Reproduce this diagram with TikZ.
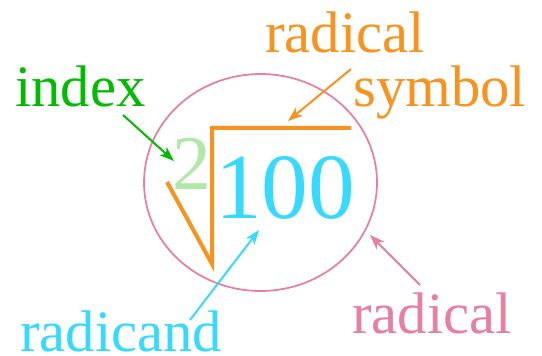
\documentclass[tikz,border=0pt]{standalone}
\usepackage{fontspec}
\setmainfont{Liberation Serif}
\usetikzlibrary{arrows.meta,positioning}
\definecolor{radorange}{HTML}{F7931E}
\definecolor{idxgreen}{HTML}{00BB00}
\definecolor{digitgreen}{HTML}{B0E8A8}
\definecolor{radcyan}{HTML}{38D9FF}
\definecolor{radpink}{HTML}{E67FA0}

\begin{document}
\begin{tikzpicture}[x=0.75pt, y=-0.75pt,
		lbl/.style={font=\fontsize{44}{44}\selectfont, inner sep=0pt, anchor=base west},
		ptr/.style={line width=1.5pt, -{Stealth[length=11pt, width=8pt, inset=3pt]}}]
	\useasboundingbox (0,0) rectangle (542,356);

	% the radical
	\draw[radpink, line width=1.3pt] (260.5,182.5) ellipse [x radius=116.5, y radius=108.5];
	\draw[radorange, line width=3pt, line join=miter] (167,182) -- (212,264) -- (212,128) -- (351,128);
	\node[lbl, font=\fontsize{58}{58}\selectfont, text=digitgreen] (two) at (172,189) {2};
	\node[lbl, font=\fontsize{70}{70}\selectfont, text=radcyan] (hundred) at (215,218) {100};

	% labels
	\node[lbl, text=idxgreen] (index) at (15,107) {index};
	\node[lbl, text=radorange] (radtop) at (265,53) {radical};
	\node[lbl, text=radorange] (symbol) at (353,107) {symbol};
	\node[lbl, text=radcyan] (radicand) at (20,351) {radicand};
	\node[lbl, text=radpink] (radical) at (352,333) {radical};

	% pointers
	\coordinate (idxtail) at (123,115);
	\coordinate (idxtip) at (174,161);
	\coordinate (symtail) at (351,69);
	\coordinate (symtip) at (288,121);
	\coordinate (cndtail) at (190,320);
	\coordinate (cndtip) at (259,230);
	\coordinate (radtail) at (420,285);
	\coordinate (radtip) at (370,235);
	\draw[ptr, idxgreen] (idxtail) -- (idxtip);
	\draw[ptr, radorange] (symtail) -- (symtip);
	\draw[ptr, radcyan] (cndtail) -- (cndtip);
	\draw[ptr, radpink] (radtail) -- (radtip);
\end{tikzpicture}
\end{document}
